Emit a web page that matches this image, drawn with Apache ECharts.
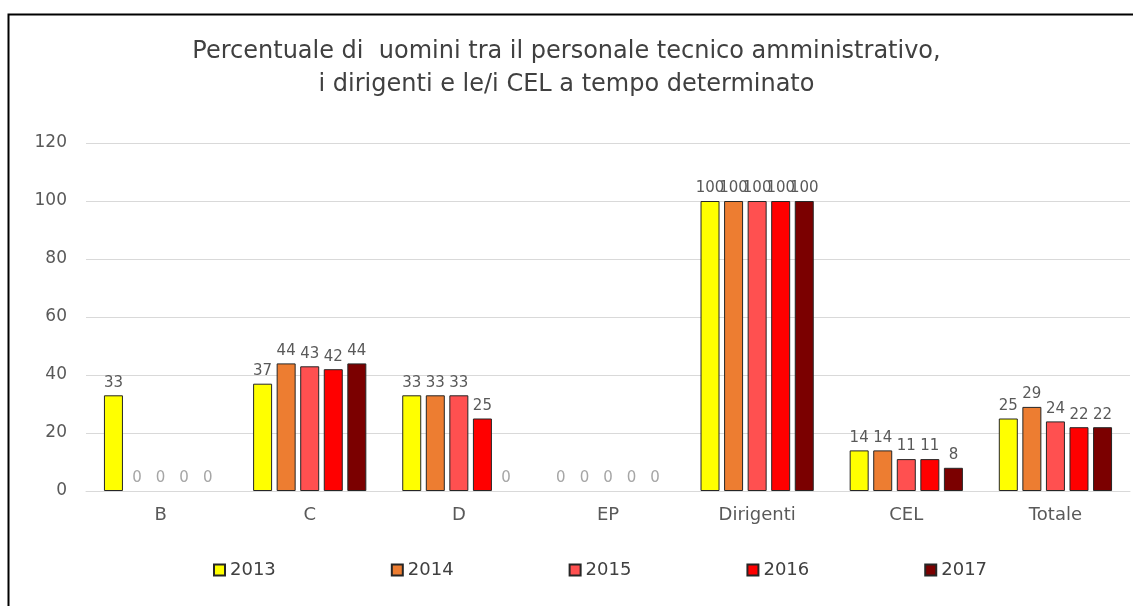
<!DOCTYPE html>
<html>
<head>
<meta charset="utf-8">
<style>
  html, body { margin: 0; padding: 0; background: #fff; }
  #chart { width: 1133px; height: 606px; }
</style>
<script src="https://cdn.jsdelivr.net/npm/echarts@6/dist/echarts.min.js"></script>
</head>
<body>
<div id="chart"></div>
<script>
// categorie e valori (% uomini)
var categories = ["B", "C", "D", "EP", "Dirigenti", "CEL", "Totale"];
var years = ["2013", "2014", "2015", "2016", "2017"];
var v2013 = [33, 37, 33, 0, 100, 14, 25];
var v2014 = [0, 44, 33, 0, 100, 14, 29];
var v2015 = [0, 43, 33, 0, 100, 11, 24];
var v2016 = [0, 42, 25, 0, 100, 11, 22];
var v2017 = [0, 44, 0, 0, 100, 8, 22];
var yTicks = [0, 20, 40, 60, 80, 100, 120];

var values = [v2013, v2014, v2015, v2016, v2017];
var colors = ["#ffff00", "#ed7d31", "#ff5050", "#ff0000", "#7b0000"];
var font = "'DejaVu Sans', sans-serif";

var chart = echarts.init(document.getElementById("chart"));

var series = years.map(function(y, i) {
  return {
    name: y,
    type: "bar",
    barWidth: 19,
    barGap: "24%",
    itemStyle: {
      color: colors[i],
      borderColor: "#262626",
      borderWidth: 1
    },
    label: {
      show: true,
      position: "top",
      distance: 5,
      color: "#595959",
      fontSize: 15,
      fontFamily: font
    },
    labelLayout: { hideOverlap: false },
    // barre a zero: niente bordo, etichetta più chiara
    data: values[i].map(function(v) {
      return v === 0
        ? { value: v, itemStyle: { borderWidth: 0 }, label: { color: "#a6a6a6" } }
        : v;
    })
  };
});

chart.setOption({
  animation: false,
  color: colors,
  title: {
    text: "Percentuale di  uomini tra il personale tecnico amministrativo,\ni dirigenti e le/i CEL a tempo determinato",
    left: "center",
    top: 30,
    textStyle: {
      color: "#404040",
      fontSize: 24,
      fontWeight: "normal",
      fontFamily: font,
      lineHeight: 33
    }
  },
  legend: {
    bottom: 22,
    left: 208,
    itemWidth: 11,
    itemHeight: 11,
    itemGap: 115,
    icon: "rect",
    textStyle: { color: "#404040", fontSize: 18, fontFamily: font },
    data: years
  },
  grid: {
    left: 86,
    right: 3,
    top: 143,
    bottom: 115
  },
  xAxis: {
    type: "category",
    data: categories,
    axisTick: { show: false },
    axisLine: { lineStyle: { color: "#d9d9d9" } },
    axisLabel: { color: "#595959", fontSize: 18, fontFamily: font, margin: 15 }
  },
  yAxis: {
    type: "value",
    min: yTicks[0],
    max: yTicks[yTicks.length - 1],
    interval: yTicks[1] - yTicks[0],
    axisLine: { show: false },
    axisTick: { show: false },
    splitLine: { lineStyle: { color: "#d9d9d9" } },
    axisLabel: { color: "#595959", fontSize: 17, fontFamily: font, margin: 19 }
  },
  graphic: [{
    type: "rect",
    shape: { x: 8.5, y: 14.5, width: 1200, height: 700 },
    style: { fill: "none", stroke: "#000", lineWidth: 2 },
    silent: true
  }],
  series: series
});
</script>
</body>
</html>
